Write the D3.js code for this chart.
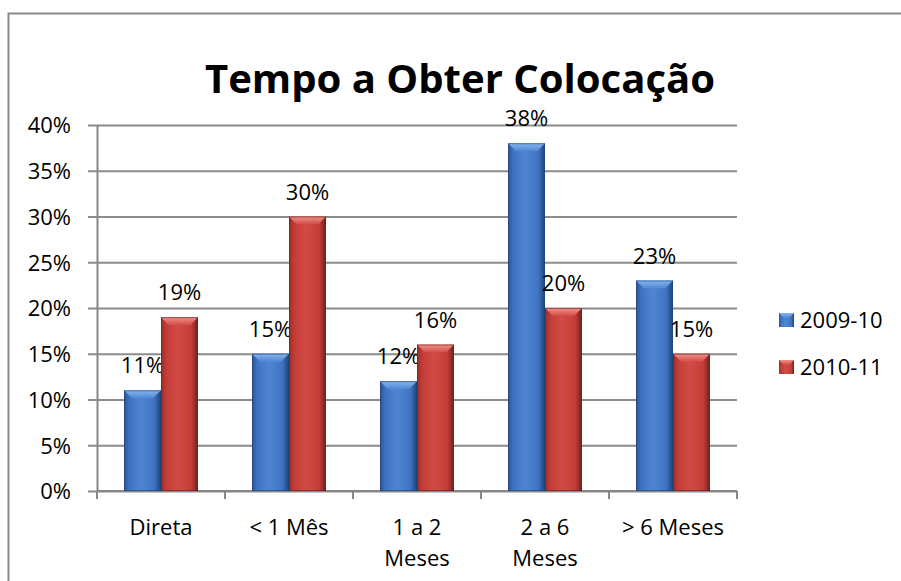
<!DOCTYPE html>
<html>
<head>
<meta charset="utf-8">
<script src="https://cdn.jsdelivr.net/npm/d3@7.9.0/dist/d3.min.js"></script>
<style>
  body { margin: 0; background: #fff; overflow: hidden; }
  svg { display: block; font-family: "Open Sans", Lato, sans-serif; }
</style>
</head>
<body>
<svg width="901" height="581"></svg>
<script>
const categories = [['Direta'], ['< 1 Mês'], ['1 a 2', 'Meses'], ['2 a 6', 'Meses'], ['> 6 Meses']];
const seriesNames = ['2009-10', '2010-11'];
const values0910 = [11, 15, 12, 38, 23];
const values1011 = [19, 30, 16, 20, 15];
const yTicks = [0, 5, 10, 15, 20, 25, 30, 35, 40];

const svg = d3.select('svg');
const plotLeft = 97, plotRight = 737, plotTop = 125, plotBottom = 491;
const fs = 22;

const catKeys = categories.map((c) => c.join(' '));
let x0 = d3.scaleBand().domain(catKeys).range([plotLeft, plotRight]);
let x1 = d3.scaleBand().domain(seriesNames).range([27, 101]);
let y = d3.scaleLinear().domain([0, 40]).range([plotBottom, plotTop]);

// colours for the bevelled bars
const palette = {
  '2009-10': { side: '#2a5597', mid: '#3f73c2', light: '#4f86d2', top: '#86b6f0', dark: '#1f4378' },
  '2010-11': { side: '#97302a', mid: '#c43c37', light: '#d24b46', top: '#f0938c', dark: '#6e1f1b' },
};

const defs = svg.append('defs');
seriesNames.forEach((s, i) => {
  let p = palette[s];
  let g = defs.append('linearGradient').attr('id', 'g' + i).attr('x1', 0).attr('x2', 1).attr('y1', 0).attr('y2', 0);
  g.append('stop').attr('offset', '0%').attr('stop-color', p.side);
  g.append('stop').attr('offset', '15%').attr('stop-color', p.mid);
  g.append('stop').attr('offset', '45%').attr('stop-color', p.light);
  g.append('stop').attr('offset', '82%').attr('stop-color', p.mid);
  g.append('stop').attr('offset', '100%').attr('stop-color', p.dark);
  let t = defs.append('linearGradient').attr('id', 't' + i).attr('x1', 0).attr('x2', 0).attr('y1', 0).attr('y2', 1);
  t.append('stop').attr('offset', '0%').attr('stop-color', p.top);
  t.append('stop').attr('offset', '100%').attr('stop-color', p.light);
});

// outer frame: only the left and top edges fall inside the picture
svg.append('path').attr('d', 'M8.5,700V13.5H1000')
  .attr('fill', 'none').attr('stroke', '#8a8a8a').attr('stroke-width', 2);

// title
svg.append('text').attr('x', 460).attr('y', 93).attr('text-anchor', 'middle')
  .attr('font-size', 40).attr('font-weight', 'bold').attr('fill', '#000')
  .attr('textLength', 510).attr('lengthAdjust', 'spacingAndGlyphs')
  .text('Tempo a Obter Colocação');

// gridlines + y axis
const yAxis = d3.axisLeft(y).tickValues(yTicks).tickFormat((d) => d + '%')
  .tickSize(-(plotRight - plotLeft)).tickSizeOuter(0).tickPadding(26);
const ga = svg.append('g').attr('transform', `translate(${plotLeft},0)`).call(yAxis);
ga.select('.domain').attr('stroke', '#868686').attr('stroke-width', 2);
ga.selectAll('.tick line').attr('stroke', '#8c8c8c').attr('stroke-width', 2)
  .attr('x1', -9);
ga.selectAll('.tick text').attr('font-size', fs).attr('fill', '#000').attr('dy', '0.36em')
  .attr('font-family', '"Open Sans", sans-serif');

// x axis line + boundary ticks
svg.append('line').attr('x1', plotLeft).attr('x2', plotRight).attr('y1', plotBottom).attr('y2', plotBottom)
  .attr('stroke', '#868686').attr('stroke-width', 2);
const bounds = catKeys.map((k) => x0(k)).concat([plotRight]);
svg.selectAll('.xtick').data(bounds).join('line').attr('class', 'xtick')
  .attr('x1', (d) => d).attr('x2', (d) => d).attr('y1', plotBottom).attr('y2', plotBottom + 8)
  .attr('stroke', '#868686').attr('stroke-width', 2);

// category labels
const xl = svg.append('g');
categories.forEach((lines, i) => {
  let cx = x0(catKeys[i]) + x0.bandwidth() / 2;
  let t = xl.append('text').attr('x', cx).attr('y', 535)
    .attr('text-anchor', 'middle').attr('font-size', fs).attr('fill', '#000');
  lines.forEach((ln, j) => {
    t.append('tspan').attr('x', cx).attr('dy', j === 0 ? 0 : 31).text(ln);
  });
});

// bars
const data = [];
catKeys.forEach((k, i) => {
  data.push({ cat: k, s: seriesNames[0], v: values0910[i], si: 0 });
  data.push({ cat: k, s: seriesNames[1], v: values1011[i], si: 1 });
});

const bars = svg.append('g').selectAll('g').data(data).join('g')
  .attr('transform', (d) => `translate(${x0(d.cat) + x1(d.s)},0)`);
const bw = x1.bandwidth();
const bev = 8;

bars.append('rect').attr('x', 0).attr('y', (d) => y(d.v)).attr('width', bw)
  .attr('height', (d) => y(0) - y(d.v)).attr('fill', (d) => `url(#g${d.si})`);
bars.append('path')
  .attr('d', (d) => `M0,${y(d.v)}H${bw}L${bw - bev},${y(d.v) + bev}H${bev}Z`)
  .attr('fill', (d) => `url(#t${d.si})`);
bars.append('rect').attr('x', 0.5).attr('y', (d) => y(d.v) + 0.5).attr('width', bw - 1)
  .attr('height', (d) => y(0) - y(d.v) - 1).attr('fill', 'none')
  .attr('stroke', (d) => palette[d.s].dark).attr('stroke-opacity', 0.6);

// value labels
bars.append('text').attr('x', bw / 2).attr('y', (d) => y(d.v) - 17)
  .attr('text-anchor', 'middle').attr('font-size', fs).attr('fill', '#000')
  .text((d) => d.v + '%');

// legend
const lg = svg.append('g').selectAll('g').data(seriesNames).join('g')
  .attr('transform', (d, i) => `translate(779,${313 + i * 47})`);
lg.append('rect').attr('width', 15).attr('height', 14).attr('fill', (d, i) => `url(#g${i})`);
lg.append('path').attr('d', 'M0,0H15L10,5H5Z').attr('fill', (d, i) => `url(#t${i})`);
lg.append('text').attr('x', 21).attr('y', 7).attr('dy', '0.36em')
  .attr('font-size', fs).attr('fill', '#000').text((d) => d);
</script>
</body>
</html>
